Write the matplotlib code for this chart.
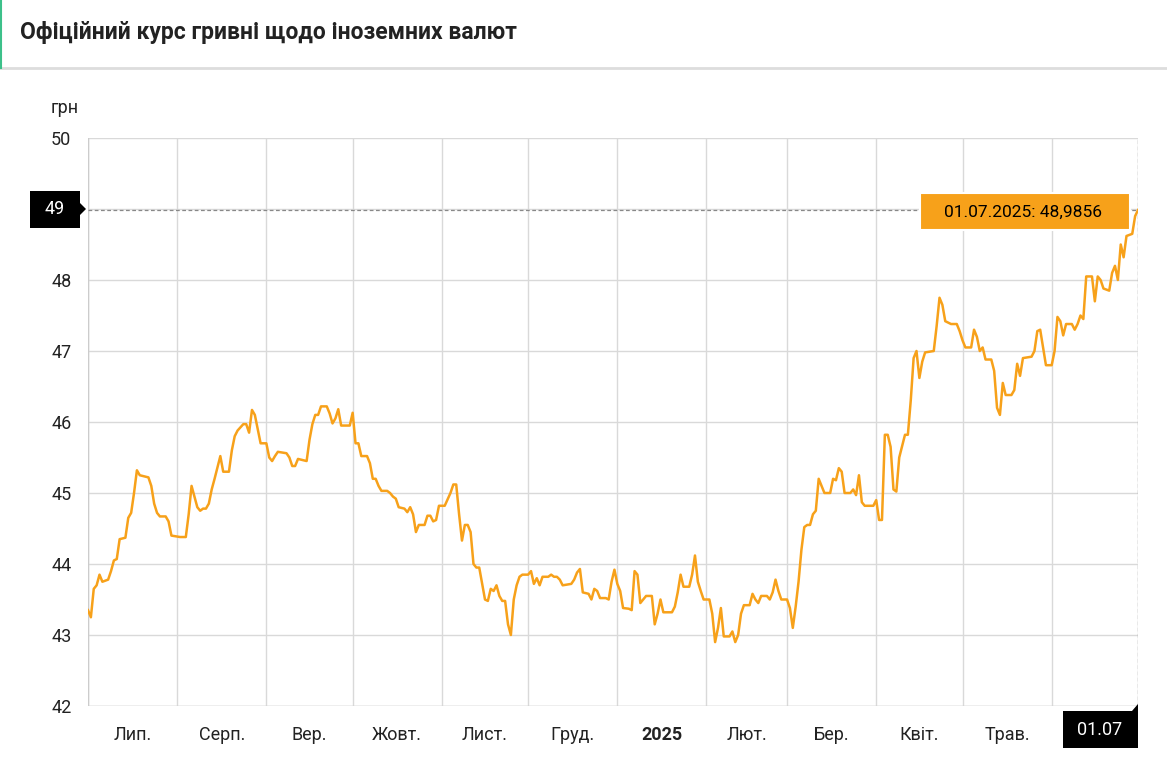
import matplotlib.pyplot as plt
import numpy as np
from matplotlib.patches import Rectangle, Polygon

plt.rcParams['font.family'] = ['Roboto', 'DejaVu Sans']

# days since 01.07.2024
days = [0, 1, 2, 3, 4, 5, 7, 8, 9, 10, 11, 13, 14, 15, 16, 17, 18, 21, 22, 23, 24, 25, 27, 28, 29,
        32, 34, 35, 36, 38, 39, 40, 41, 42, 43, 44, 46, 47, 49, 50, 51, 52, 54, 55, 56, 57, 58, 59, 60,
        62, 63, 64, 65, 66, 69, 70, 71, 72, 73, 76, 77, 78, 79, 80, 81, 83, 84, 85, 86, 87, 88,
        91, 92, 93, 94, 95, 97, 98, 99, 100, 101, 102, 104, 105, 106, 107, 108, 110, 111, 112, 113,
        114, 115, 117, 118, 119, 120, 121, 122, 124, 126, 127, 128, 129, 130, 131, 132, 133, 134,
        135, 136, 138, 139, 140, 141, 142, 143, 144, 145, 146, 147, 148, 149, 150, 151, 153, 154,
        155, 156, 157, 158, 160, 161, 162, 163, 164, 165, 168, 169, 170, 171, 172, 174, 175, 176,
        177, 178, 180, 181, 182, 183, 184, 185, 186, 188, 189, 190, 191, 192, 193, 194, 196, 197,
        198, 199, 200, 201, 203, 204, 205, 206, 207, 209, 210, 211, 212, 213, 214, 216, 217, 218,
        219, 220, 221, 223, 224, 225, 226, 227, 228, 230, 231, 232, 233, 234, 236, 237, 238, 239,
        240, 241, 243, 244, 245, 246, 247, 248, 249, 250, 251, 252, 253, 254, 255, 256, 258, 259,
        260, 261, 262, 263, 265, 266, 267, 268, 269, 270, 273, 274, 275, 276, 277, 278, 279, 280,
        281, 282, 284, 285, 286, 287, 288, 289, 290, 291, 294, 295, 296, 297, 298, 299, 300, 302,
        303, 304, 305, 307, 308, 309, 310, 311, 312, 314, 315, 316, 317, 318, 319, 321, 322, 323,
        324, 325, 328, 329, 330, 331, 332, 333, 335, 336, 337, 338, 339, 340, 342, 343, 344, 345,
        346, 347, 349, 350, 351, 352, 353, 355, 356, 357, 358, 359, 360, 361, 363, 364, 365]
rate = [43.35, 43.25, 43.65, 43.7, 43.85, 43.75, 43.78, 43.9, 44.05, 44.07, 44.35, 44.37, 44.65, 44.72,
        45.0, 45.32, 45.25, 45.22, 45.1, 44.85, 44.72, 44.67, 44.67, 44.6, 44.4,
        44.38, 44.38, 44.7, 45.1, 44.8, 44.75, 44.78, 44.78, 44.85, 45.05, 45.2, 45.52, 45.3, 45.3,
        45.6, 45.8, 45.88, 45.97, 45.97, 45.85, 46.17, 46.1, 45.9, 45.7,
        45.7, 45.5, 45.45, 45.52, 45.58, 45.56, 45.5, 45.38, 45.38, 45.48, 45.45, 45.75, 45.97, 46.1,
        46.1, 46.22, 46.22, 46.12, 45.98, 46.05, 46.18, 45.95,
        45.95, 46.13, 45.7, 45.7, 45.52, 45.52, 45.42, 45.2, 45.2, 45.1, 45.03, 45.03, 45.0, 44.95,
        44.92, 44.8, 44.78, 44.73, 44.8, 44.7,
        44.45, 44.55, 44.55, 44.68, 44.68, 44.6, 44.62, 44.82, 44.82, 45.0, 45.12, 45.12, 44.7, 44.33,
        44.55, 44.55, 44.45, 44.0,
        43.95, 43.95, 43.5, 43.48, 43.65, 43.62, 43.7, 43.55, 43.48, 43.48, 43.15, 43.0, 43.5, 43.7,
        43.82, 43.85, 43.85, 43.9,
        43.72, 43.8, 43.7, 43.82, 43.82, 43.85, 43.82, 43.82, 43.78, 43.7, 43.72, 43.78, 43.88, 43.93,
        43.6, 43.58, 43.5, 43.65,
        43.62, 43.52, 43.52, 43.5, 43.75, 43.92, 43.72, 43.62, 43.38, 43.37, 43.35, 43.9, 43.85, 43.45,
        43.5, 43.55, 43.55, 43.15,
        43.3, 43.5, 43.32, 43.32, 43.32, 43.4, 43.6, 43.85, 43.68, 43.68, 43.85, 44.12, 43.75, 43.62,
        43.5, 43.5, 43.3, 42.9,
        43.1, 43.38, 42.98, 42.98, 43.05, 42.9, 43.0, 43.3, 43.42, 43.42, 43.58, 43.5, 43.45, 43.55,
        43.55, 43.5, 43.6, 43.78,
        43.62, 43.5, 43.5, 43.38, 43.1, 43.4, 43.75, 44.2, 44.52, 44.55, 44.55, 44.7, 44.75, 45.2, 45.1,
        45.0, 45.0, 45.2,
        45.18, 45.35, 45.3, 45.0, 45.0, 45.05, 44.97, 45.25, 44.87, 44.82, 44.82, 44.9, 44.62, 44.62,
        45.82, 45.82, 45.65, 45.05,
        45.02, 45.5, 45.82, 45.82, 46.3, 46.9, 47.0, 46.62, 46.85, 46.98, 47.0, 47.35, 47.75, 47.65,
        47.42, 47.4, 47.38, 47.38,
        47.28, 47.15, 47.05, 47.05, 47.3, 47.2, 47.0, 47.05, 46.88, 46.88, 46.72, 46.2, 46.1, 46.55,
        46.38, 46.38, 46.45, 46.82,
        46.65, 46.9, 46.92, 47.0, 47.28, 47.3, 47.05, 46.8, 46.8, 47.0, 47.48, 47.42, 47.22, 47.38,
        47.38, 47.3, 47.38, 47.5,
        47.45, 48.05, 48.05, 47.7, 48.05, 48.0, 47.88, 47.85, 48.1, 48.2, 48.0, 48.5, 48.32, 48.62,
        48.65, 48.9, 48.9856]

month_starts = [0, 31, 62, 92, 123, 153, 184, 215, 243, 274, 304, 335, 365]
month_labels = ['Лип.', 'Серп.', 'Вер.', 'Жовт.', 'Лист.', 'Груд.', '2025', 'Лют.', 'Бер.',
                'Квіт.', 'Трав.', 'Черв.']
yticks = [42, 43, 44, 45, 46, 47, 48, 49, 50]

W, H = 1167, 758
fig = plt.figure(figsize=(W / 100, H / 100), dpi=100)
ax = fig.add_axes([88 / W, 1 - 706 / H, (1138 - 88) / W, (706 - 138) / H])

ax.plot(days, rate, color='#f7a11a', lw=1.8, zorder=3)
ax.set_xlim(0, 365)
ax.set_ylim(42, 50)
ax.set_yticks(yticks)
# the 49 label is hidden under the crosshair marker box
ax.set_yticklabels(['' if t == 49 else str(t) for t in yticks])
ax.set_xticks(month_starts)
ax.tick_params(length=0, labelbottom=False, labelsize=13, colors='#222222', pad=12)
for s in ax.spines.values():
    s.set_visible(False)
ax.grid(True, color='#d9d9d9', lw=1)
ax.axvline(0, color='#cccccc', lw=1)
ax.axhline(42, color='#cccccc', lw=1)

for i, lab in enumerate(month_labels[:-1]):
    mid = (month_starts[i] + month_starts[i + 1]) / 2
    ax.text(mid, -0.035, lab, transform=ax.get_xaxis_transform(), ha='center', va='top',
            fontsize=13, fontweight='bold' if lab == '2025' else 'normal', color='#222222')

# crosshair
last = rate[-1]
ax.axhline(last, color='#888888', lw=0.9, ls=(0, (3, 2)), zorder=2)
ax.axvline(days[-1], color='#888888', lw=0.9, ls=(0, (3, 2)), zorder=2)

# header
fig.patches.append(Rectangle((0, 1 - 68 / H), 1, 68 / H, transform=fig.transFigure,
                             facecolor='white', edgecolor='none'))
fig.add_artist(plt.Line2D([0, 1], [1 - 68 / H, 1 - 68 / H], color='#dddddd', lw=2))
fig.add_artist(plt.Line2D([1 / W, 1 / W], [1, 1 - 68 / H], color='#3cc08a', lw=1.5))
fig.text(20 / W, 1 - 32 / H, 'Офіційний курс гривні щодо іноземних валют', fontsize=16.5,
         fontweight='bold', va='center', color='#222222')
fig.text(65 / W, 1 - 108 / H, 'грн', fontsize=13, ha='center', va='center', color='#222222')

# y marker box
fig.patches.append(Rectangle((30 / W, 1 - 228 / H), 50 / W, 37 / H, transform=fig.transFigure,
                             facecolor='black'))
fig.patches.append(Polygon([(80 / W, 1 - 203 / H), (86 / W, 1 - 209 / H), (80 / W, 1 - 215 / H)],
                           transform=fig.transFigure, facecolor='black'))
fig.text(55 / W, 1 - 209 / H, '49', color='white', fontsize=13, ha='center', va='center')

# x marker box
fig.patches.append(Rectangle((1063 / W, 1 - 748 / H), 75 / W, 37 / H, transform=fig.transFigure,
                             facecolor='black'))
fig.patches.append(Polygon([(1132 / W, 1 - 711 / H), (1138 / W, 1 - 704 / H), (1138 / W, 1 - 711 / H)],
                           transform=fig.transFigure, facecolor='black'))
fig.text(1100 / W, 1 - 730 / H, '01.07', color='white', fontsize=13, ha='center', va='center')

# tooltip
fig.patches.append(Rectangle((920 / W, 1 - 230 / H), 210 / W, 37 / H, transform=fig.transFigure,
                             facecolor='#f7a11a', edgecolor='white', lw=1.5))
fig.text(1023 / W, 1 - 212 / H, '01.07.2025: 48,9856', color='black', fontsize=12.5,
         ha='center', va='center')

fig.savefig('out.png', dpi=100)
